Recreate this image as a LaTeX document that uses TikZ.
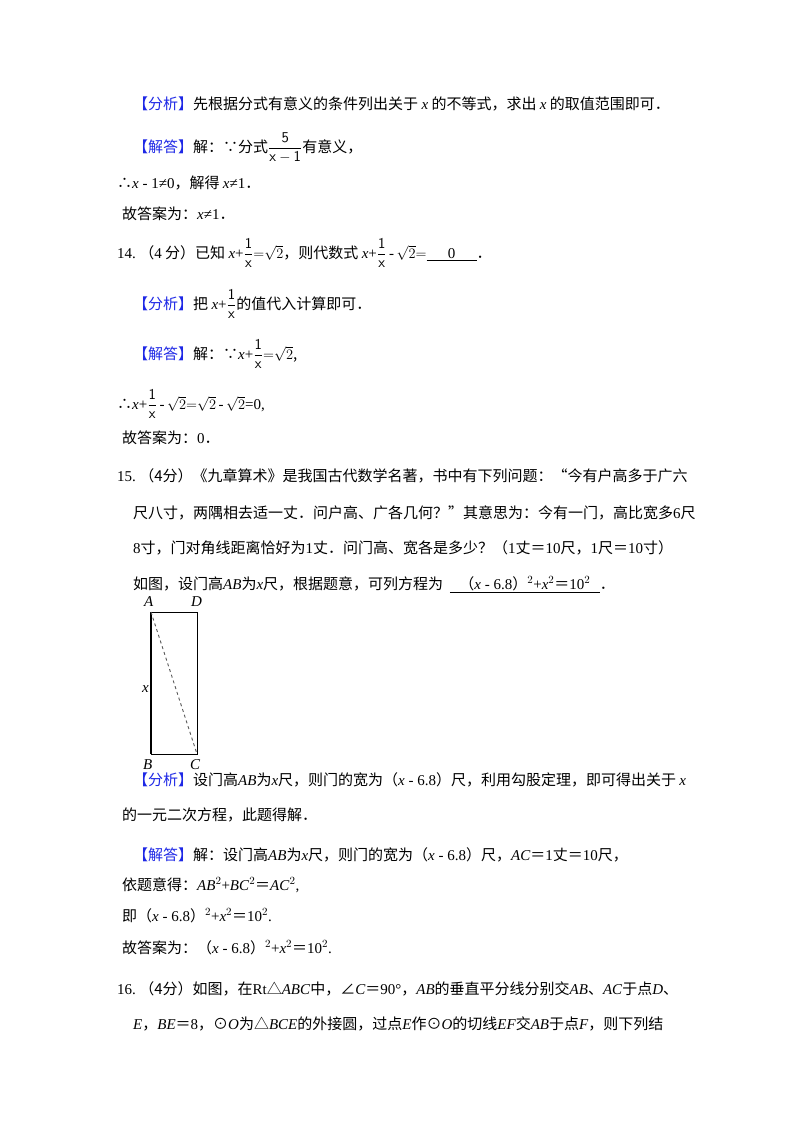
\documentclass[tikz,border=0pt]{standalone}
\usepackage{amsmath}
\usepackage{fontspec}
\setmainfont{Noto Sans CJK SC}
\newfontfamily\lat{Liberation Serif}
\definecolor{hb}{RGB}{30,40,230}
\newcommand{\fx}{{\lat\textit{x}}}
\newcommand{\la}[1]{{\lat #1}}
\newcommand{\hb}[1]{\textcolor{hb}{【#1】}}
\begin{document}
\begin{tikzpicture}[x=1pt,y=-1pt,every node/.style={anchor=base west,inner sep=0pt,font=\fontsize{15}{15}\selectfont}]
\useasboundingbox (0,0) rectangle (800,1132);
\fill[white] (0,0) rectangle (800,1132);
\node (l1) at (133,109) {\hb{分析}先根据分式有意义的条件列出关于 \fx{} 的不等式，求出 \fx{} 的取值范围即可．};
\node (l2) at (133,152) {\hb{解答}解：∵分式$\dfrac{\mathsf 5}{\mathsf{x-1}}$有意义，};
\node (l3) at (117,188) {∴\la{\textit{x} - 1≠0}，解得 \la{\textit{x}≠1}．};
\node (l4) at (122,219) {故答案为：\la{\textit{x}≠1}．};
\node (l5) at (117,258) {\la{14.}\ （\la{4} 分）已知 \la{\textit{x}+}$\dfrac{\mathsf 1}{\mathsf x}{=}\sqrt{2}$，则代数式 \la{\textit{x}+}$\dfrac{\mathsf 1}{\mathsf x}$\,\la{-}\,$\sqrt2{=}$\underline{\makebox[50pt]{\la{0}}}．};
\node (l6) at (133,309) {\hb{分析}把 \la{\textit{x}+}$\dfrac{\mathsf 1}{\mathsf x}$的值代入计算即可．};
\node (l7) at (133,359) {\hb{解答}解：∵\la{\textit{x}+}$\dfrac{\mathsf 1}{\mathsf x}{=}\sqrt{2}$,};
\node (l8) at (117,409) {∴\la{\textit{x}+}$\dfrac{\mathsf 1}{\mathsf x}$\,\la{-}\,$\sqrt2{=}\sqrt2$\,\la{-}\,$\sqrt2$\la{=0,}};
\node (l9) at (122,443) {故答案为：\la{0}．};
\node (l10) at (117,481) {\la{15.}\ （4分）《九章算术》是我国古代数学名著，书中有下列问题：“今有户高多于广六};
\node (l11) at (133,518) {尺八寸，两隅相去适一丈．问户高、广各几何？”其意思为：今有一门，高比宽多\la{6}尺};
\node (l12) at (133,553) {\la{8}寸，门对角线距离恰好为\la{1}丈．问门高、宽各是多少？（\la{1}丈＝\la{10}尺，\la{1}尺＝\la{10}寸）};
\node (l13) at (133,589) {如图，设门高\la{\textit{AB}}为\fx{}尺，根据题意，可列方程为\ \ \underline{\makebox[150pt]{（\la{\textit{x} - 6.8}）\la{$^2$+\textit{x}$^2$}＝\la{10$^2$}}}．};
\coordinate (A) at (151,612);
\coordinate (D) at (197,612);
\coordinate (B) at (151,754);
\coordinate (C) at (197,754);
\draw[line width=0.8pt] (A)--(D)--(C)--(B)--cycle;
\draw[line width=1.4pt] (A)--(B);
\draw[dashed,gray!70!black,line width=0.9pt] (A)--(C);
\node (la) at (144,606) {\la{\textit{A}}};
\node (ld) at (191,606) {\la{\textit{D}}};
\node (lb) at (143,769) {\la{\textit{B}}};
\node (lc) at (190,769) {\la{\textit{C}}};
\node (lx) at (142,692) {\fx};
\node (l14) at (133,785) {\hb{分析}设门高\la{\textit{AB}}为\fx{}尺，则门的宽为（\la{\textit{x} - 6.8}）尺，利用勾股定理，即可得出关于 \fx};
\node (l15) at (122,820) {的一元二次方程，此题得解．};
\node (l16) at (133,860) {\hb{解答}解：设门高\la{\textit{AB}}为\fx{}尺，则门的宽为（\la{\textit{x} - 6.8}）尺，\la{\textit{AC}}＝\la{1}丈＝\la{10}尺，};
\node (l17) at (122,890) {依题意得：\la{\textit{AB}$^2$+\textit{BC}$^2$}＝\la{\textit{AC}$^2$,}};
\node (l18) at (122,921) {即（\la{\textit{x} - 6.8}）\la{$^2$+\textit{x}$^2$}＝\la{10$^2$.}};
\node (l19) at (122,953) {故答案为：（\la{\textit{x} - 6.8}）\la{$^2$+\textit{x}$^2$}＝\la{10$^2$.}};
\node (l20) at (117,994) {\la{16.}\ （4分）如图，在\la{Rt}△\la{\textit{ABC}}中，∠\la{\textit{C}}＝\la{90°}，\la{\textit{AB}}的垂直平分线分别交\la{\textit{AB}}、\la{\textit{AC}}于点\la{\textit{D}}、};
\node (l21) at (133,1029) {\la{\textit{E}}，\la{\textit{BE}}＝\la{8}，⊙\la{\textit{O}}为△\la{\textit{BCE}}的外接圆，过点\la{\textit{E}}作⊙\la{\textit{O}}的切线\la{\textit{EF}}交\la{\textit{AB}}于点\la{\textit{F}}，则下列结};
\end{tikzpicture}
\end{document}
